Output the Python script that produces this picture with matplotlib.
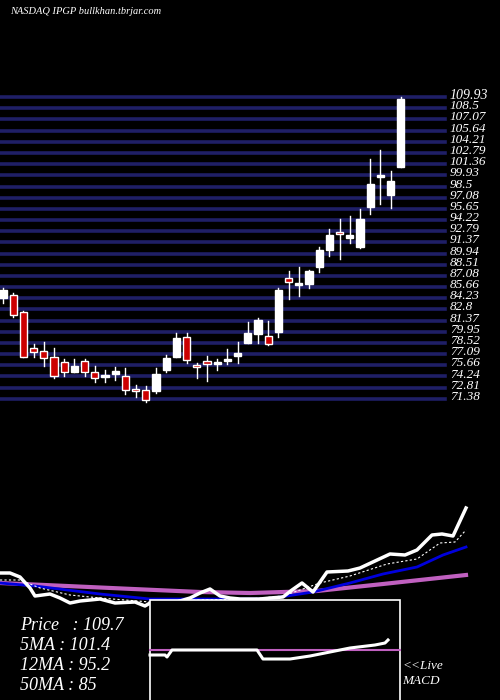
import matplotlib
matplotlib.use("Agg")
import matplotlib.pyplot as plt
from matplotlib.patches import Rectangle

opens  = [84.26,84.65,82.47,77.88,77.49,76.73,76.09,74.81,76.22,74.81,74.17,74.56,74.30,72.64,72.51,72.39,75.07,76.73,79.28,75.71,
          76.22,75.83,76.22,76.86,78.52,79.67,79.41,79.92,86.82,85.92,86.05,88.22,90.39,92.69,91.92,90.77,95.88,99.71,97.42,100.99]
highs  = [85.54,84.90,82.60,78.39,78.64,77.88,76.47,76.47,76.47,75.58,75.07,75.45,75.32,73.15,73.02,75.32,76.98,79.79,79.79,75.96,
          76.86,76.47,77.75,78.64,81.20,81.71,81.33,85.54,87.71,88.22,87.84,90.77,93.07,94.35,94.73,95.63,102.01,103.16,100.48,109.93]
lows   = [83.62,81.84,76.73,76.73,75.58,74.05,74.30,74.81,74.30,73.54,73.54,73.79,72.00,71.62,70.98,72.13,74.81,76.73,75.96,74.05,
          73.66,75.07,75.83,75.96,78.52,78.52,78.26,79.28,84.13,84.52,85.54,87.58,89.63,89.24,91.29,90.65,94.99,96.27,95.76,100.99]
closes = [85.28,82.09,76.73,77.37,76.60,74.30,74.81,75.58,74.81,74.05,74.43,74.94,72.51,72.39,71.24,74.56,76.60,79.15,76.34,75.45,
          75.83,75.83,76.47,77.24,79.79,81.45,78.39,85.28,86.31,86.18,87.71,90.39,92.31,92.44,92.31,94.35,98.82,99.71,99.20,109.67]

levels = [109.93,108.5,107.07,105.64,104.21,102.79,101.36,99.93,98.5,97.08,95.65,94.22,92.79,91.37,89.94,88.51,
          87.08,85.66,84.23,82.8,81.37,79.95,78.52,77.09,75.66,74.24,72.81,71.38]
level_labels = ["109.93","108.5","107.07","105.64","104.21","102.79","101.36","99.93","98.5","97.08","95.65","94.22",
                "92.79","91.37","89.94","88.51","87.08","85.66","84.23","82.8","81.37","79.95","78.52","77.09","75.66",
                "74.24","72.81","71.38"]

# lower indicator panel (horizontal position, level)
price_x = [0,10,20,30,35,50,60,70,80,100,115,135,145,150,160,170,180,190,200,210,220,230,240,250,260,270,283,292,302,313,327,348,360,375,390,405,417,432,442,453,466]
price_y = [573,573,577,588,596,594,598,603,601,599,603,602,606,603,604,604,601,598,593,589,596,598,599,599,599,598,597,590,583,592,572,571,568,561,554,555,550,535,534,536,508]
ma5_x = [0,20,40,70,100,150,200,250,283,300,320,350,387,417,440,455,466]
ma5_y = [580,580,588,595,598,602,600,599,596,590,583,576,564,559,543,542,530]
ma12_x = [0,35,100,150,200,267,313,350,383,417,443,466]
ma12_y = [583,586,594,599,599,599,592,583,574,567,555,547]
ma50_x = [0,67,133,200,250,317,383,466]
ma50_y = [583,586,589,592,593,591,584,575]
macd_x = [150,165,167,172,257,263,290,310,330,350,375,385,388]
macd_y = [655,655,657,650,650,659,659,656,652,648,645,643,640]
signal_x = [150,400]
signal_y = [650,650]

info = ["Price   : 109.7", "5MA : 101.4", "12MA : 95.2", "50MA : 85"]

W, H = 500, 700
fig = plt.figure(figsize=(5, 7), dpi=100, facecolor="black")

def p_of(y):
    return 109.93 - 0.1277 * (y - 97)
ax = fig.add_axes([0, 1 - 420 / H, 1, 340 / H])
ax.set_facecolor("black")
ax.set_xlim(-3 / 10.2, (W - 3) / 10.2)
ax.set_ylim(p_of(420), p_of(80))
ax.axis("off")
xfrac_grid = 445 / W
for k, (lv, lb) in enumerate(zip(levels, level_labels)):
    ax.axhline(lv, xmin=0, xmax=xfrac_grid, color="#1f1f66", lw=2.6, zorder=1)
    ax.text(452 / 10.2 - 0.5, lv + 0.25, lb, color="white", fontsize=10 if k == 0 else 9.5,
            family="Liberation Serif", style="italic", va="center", ha="left", zorder=3)
for i, (o, h, l, c) in enumerate(zip(opens, highs, lows, closes)):
    ax.plot([i, i], [l, h], color="white", lw=1, zorder=2)
    lo, hi = min(o, c), max(o, c)
    hgt = max(hi - lo, 0.2)
    fc = "white" if c >= o else "#cc0000"
    ax.add_patch(Rectangle((i - 0.36, lo), 0.72, hgt, facecolor=fc, edgecolor="white", lw=1, zorder=3))

fig.text(10 / W, 1 - 11 / H, "NASDAQ IPGP bullkhan.tbrjar.com", color="white", fontsize=7.5,
         family="Liberation Serif", style="italic", va="center")

bx = fig.add_axes([0, 0, 1, 200 / H])
bx.set_facecolor("black")
bx.set_xlim(0, W)
bx.set_ylim(700, 500)
bx.axis("off")
bx.plot(ma50_x, ma50_y, color="#c060c0", lw=3, zorder=2)
bx.plot(ma12_x, ma12_y, color="#0000dd", lw=2, zorder=3)
bx.plot(ma5_x, ma5_y, color="white", lw=0.8, ls=(0, (2, 2)), zorder=4)
bx.plot(price_x, price_y, color="white", lw=2.5, zorder=5)
bx.add_patch(Rectangle((150, 600), 250, 110, facecolor="black", edgecolor="white", lw=1.2, zorder=6))
bx.plot(signal_x, signal_y, color="#c060c0", lw=1.5, zorder=7)
bx.plot(macd_x, macd_y, color="white", lw=2.2, zorder=8)
for k, t in enumerate(info):
    bx.text(20, 625 + 20 * k, t, color="white", fontsize=13, family="Liberation Serif",
            style="italic", va="center", ha="left", zorder=9)
bx.text(402, 666, "<<Live", color="white", fontsize=9.5, family="Liberation Serif", style="italic", va="center", zorder=9)
bx.text(402, 681, "MACD", color="white", fontsize=9.5, family="Liberation Serif", style="italic", va="center", zorder=9)

fig.savefig("out.png", dpi=100, facecolor="black")
